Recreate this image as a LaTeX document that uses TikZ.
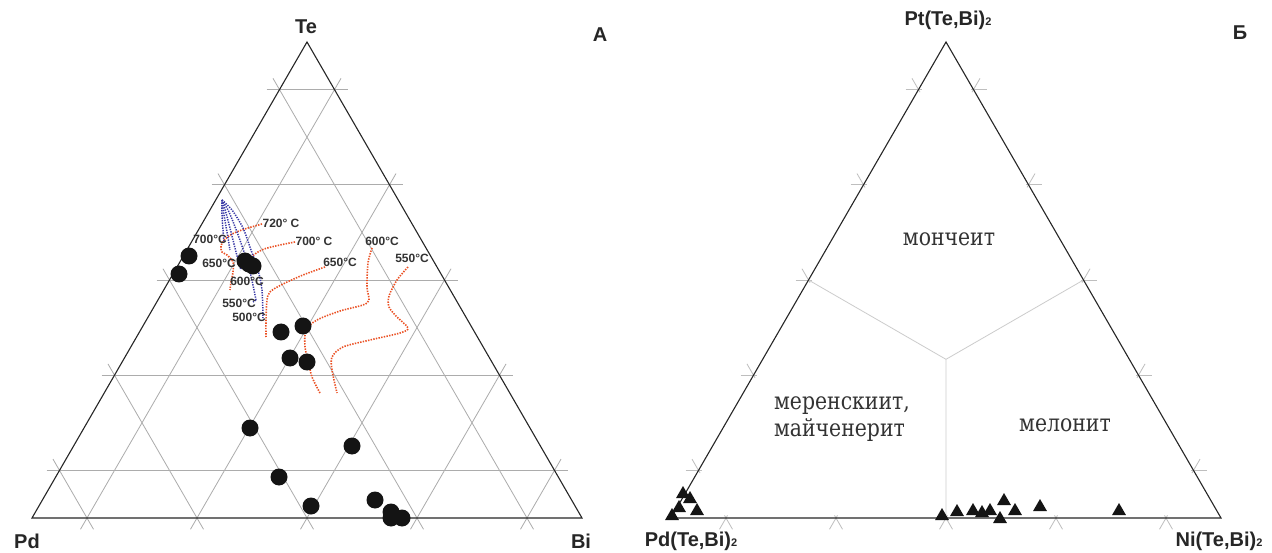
\documentclass[tikz,border=0pt]{standalone}
\usepackage{fontspec}
\setmainfont{Liberation Sans}
\newfontfamily\rufont[FakeStretch=0.85]{DejaVu Serif}
\usetikzlibrary{calc,shapes.geometric}

\definecolor{gridgray}{RGB}{172,172,172}
\definecolor{ticklight}{RGB}{190,190,190}
\definecolor{isored}{RGB}{235,80,35}
\definecolor{isoblue}{RGB}{55,55,165}

\newcommand{\subtwo}{{\fontsize{11}{11}\selectfont 2}}
% outer ticks of one grid line, at both of its ends
\newcommand{\edgeticks}[2]{%
  \draw[tickmark] ($(#1)!-13pt!(#2)$) -- ($(#1)!3pt!(#2)$)
                  ($(#2)!-13pt!(#1)$) -- ($(#2)!3pt!(#1)$);}

\begin{document}
\begin{tikzpicture}[x=1pt,y=-1pt,
    edge/.style={draw=black!85,line width=1.1pt},
    gridline/.style={draw=gridgray,line width=0.8pt},
    tickmark/.style={draw=ticklight,line width=0.8pt},
    fieldline/.style={draw=black!20,line width=0.8pt},
    vertexlabel/.style={font=\fontsize{20}{24}\selectfont\bfseries,text=black!85},
    templabel/.style={font=\fontsize{12}{14}\selectfont\bfseries,text=black!80,inner sep=0pt},
    isotherm/.style={draw=isored,line width=1.6pt,dash pattern=on 1.4pt off 1.3pt},
    pathline/.style={draw=isoblue,line width=1.5pt,dash pattern=on 1.3pt off 1.2pt},
    sample/.style={circle,fill=black!92,minimum size=17pt,inner sep=0pt},
    analysis/.style={regular polygon,regular polygon sides=3,fill=black!92,minimum size=16pt,inner sep=0pt},
    field/.style={font=\rufont\fontsize{24}{27}\selectfont,text=black!80,align=left}]

\fill[white] (0,0) rectangle (1272,553);
\useasboundingbox (0,0) rectangle (1272,553);

% A: Pd - Bi - Te
\coordinate (pd) at (32,518);
\coordinate (bi) at (582,518);
\coordinate (te) at (307,42);

\foreach \f in {0.1,0.3,0.5,0.7,0.9}{
  \pgfmathsetmacro\g{1-\f}
  \draw[gridline,shorten <=-13pt,shorten >=-13pt] (barycentric cs:pd=\g,te=\f) -- (barycentric cs:bi=\g,te=\f);
  \draw[gridline,shorten <=-13pt,shorten >=-13pt] (barycentric cs:pd=\g,bi=\f) -- (barycentric cs:te=\g,bi=\f);
  \draw[gridline,shorten <=-13pt,shorten >=-13pt] (barycentric cs:bi=\g,pd=\f) -- (barycentric cs:te=\g,pd=\f);
}
\draw[edge] (pd) -- (bi) -- (te) -- cycle;

% isotherms
\draw[isotherm] plot[smooth] coordinates {(262,224) (248,228) (234,233) (225,239) (221,246) (222,252) (227,255) (233,262) (233,272) (231,282) (230,290)};
\draw[isotherm] plot[smooth] coordinates {(295,242) (280,245) (264,249) (255,254) (249,260)};
\draw[isotherm] plot[smooth] coordinates {(325,267) (303,275) (281,285) (270,292) (267,300) (266,320) (266,337)};
\draw[isotherm] plot[smooth] coordinates {(372,248) (368,263) (367,287) (369,300) (363,305) (340,311) (317,320) (306,330) (305,347) (308,360) (312,377) (320,393)};
\draw[isotherm] plot[smooth] coordinates {(408,267) (397,280) (389,296) (389,307) (397,317) (408,328) (400,333) (370,340) (343,347) (332,357) (332,370) (337,393)};

\draw[pathline] plot[smooth] coordinates {(222,200) (222,215) (223,230) (224,242)};
\draw[pathline] plot[smooth] coordinates {(222,200) (224,215) (227,232) (230,250)};
\draw[pathline] plot[smooth] coordinates {(222,200) (226,213) (231,232) (236,252) (241,270)};
\draw[pathline] plot[smooth] coordinates {(222,200) (229,212) (237,232) (244,252) (250,272) (254,290) (256,300)};
\draw[pathline] (256,300) -- (253,302);
\draw[pathline] plot[smooth] coordinates {(222,200) (232,210) (243,228) (251,250) (258,270) (262,290) (263,318)};

\node[templabel] (t720) at (281,223) {720° C};
\node[templabel] (t700a) at (314,241) {700° C};
\node[templabel] (t700b) at (210,239) {700°C};
\node[templabel] (t650a) at (340,262) {650°C};
\node[templabel] (t650b) at (219,263) {650°C};
\node[templabel] (t600a) at (382,241) {600°C};
\node[templabel] (t600b) at (247,281) {600°C};
\node[templabel] (t550a) at (412,258) {550°C};
\node[templabel] (t550b) at (239,303) {550°C};
\node[templabel] (t500) at (249,317) {500°C};

\foreach \x/\y [count=\i] in {189/256,179/274,245/261,249/264,253/266,281/332,303/326,290/358,307/362,
    250/428,352/446,279/477,311/506,375/500,391/512,391/518,402/518}
  \node[sample] (s\i) at (\x,\y) {};

\node[vertexlabel] (telabel) at (306,27) {Te};
\node[vertexlabel] (pdlabel) at (27,541) {Pd};
\node[vertexlabel] (bilabel) at (581,541) {Bi};
\node[vertexlabel] (panela) at (600,35) {А};

% Б: Pd(Te,Bi)2 - Ni(Te,Bi)2 - Pt(Te,Bi)2
\coordinate (pdte) at (671,518);
\coordinate (nite) at (1221,518);
\coordinate (ptte) at (946,42);

\foreach \f in {0.1,0.3,0.5,0.7,0.9}{
  \pgfmathsetmacro\g{1-\f}
  \coordinate (h1) at (barycentric cs:pdte=\g,ptte=\f);
  \coordinate (h2) at (barycentric cs:nite=\g,ptte=\f);
  \coordinate (n1) at (barycentric cs:pdte=\g,nite=\f);
  \coordinate (n2) at (barycentric cs:ptte=\g,nite=\f);
  \coordinate (d1) at (barycentric cs:nite=\g,pdte=\f);
  \coordinate (d2) at (barycentric cs:ptte=\g,pdte=\f);
  \edgeticks{h1}{h2}
  \edgeticks{n1}{n2}
  \edgeticks{d1}{d2}
}

\coordinate (mid) at (barycentric cs:pdte=1,nite=1,ptte=1);
\draw[fieldline] (mid) -- ($(pdte)!0.5!(ptte)$);
\draw[fieldline] (mid) -- ($(nite)!0.5!(ptte)$);
\draw[fieldline] (mid) -- ($(pdte)!0.5!(nite)$);
\draw[edge] (pdte) -- (nite) -- (ptte) -- cycle;

\node[field] (moncheite) at (949,239) {мончеит};
\node[field] (merenskyite) at (842,419) {меренскиит,\\майченерит};
\node[field] (melonite) at (1065,425) {мелонит};

\foreach \x/\y [count=\i] in {683/494,690/499,679/508,697/511,672/516,942/516,957/512,973/511,
    982/513,990/511,1004/501,1015/511,1000/519,1040/507,1119/511}
  \node[analysis] (m\i) at (\x,\y) {};

\node[vertexlabel] (ptlabel) at (948,20) {Pt(Te,Bi)\subtwo};
\node[vertexlabel] (pdtelabel) at (691,541) {Pd(Te,Bi)\subtwo};
\node[vertexlabel] (nitelabel) at (1219,541) {Ni(Te,Bi)\subtwo};
\node[vertexlabel] (panelb) at (1240,33) {Б};
\end{tikzpicture}
\end{document}
